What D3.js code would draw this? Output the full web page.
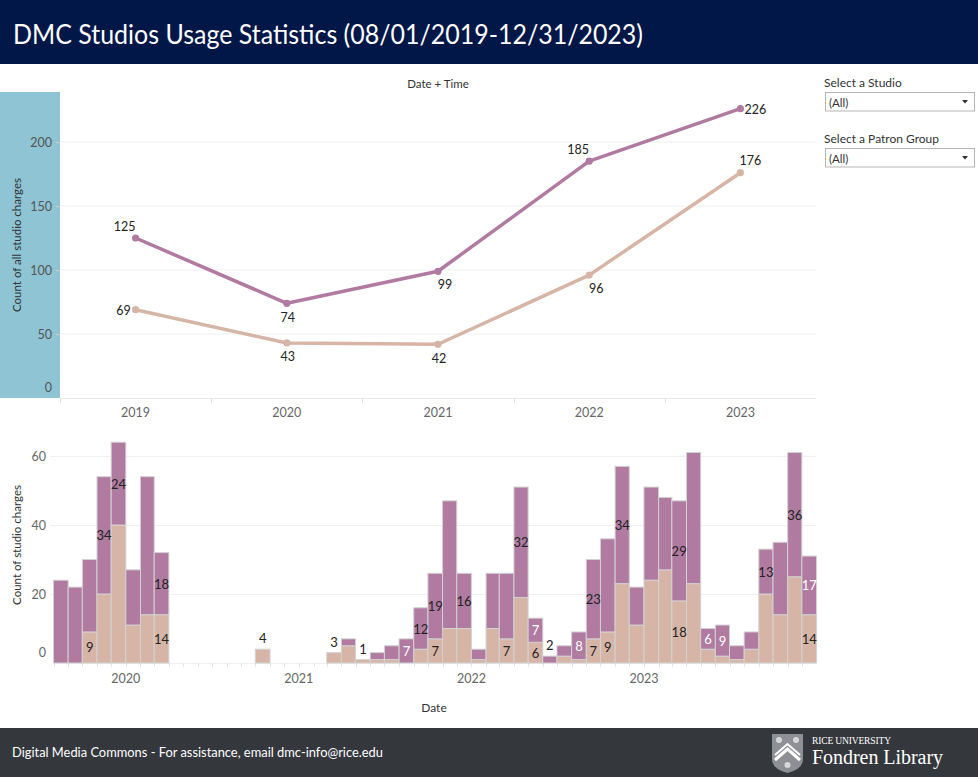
<!DOCTYPE html>
<html>
<head>
<meta charset="utf-8">
<script src="https://cdn.jsdelivr.net/npm/d3@7"></script>
<style>
  html, body { margin: 0; padding: 0; background: #fff; }
  svg { display: block; font-family: Lato, "Open Sans", sans-serif; }
</style>
</head>
<body>
<svg id="chart" width="978" height="777"></svg>
<script>
// ---------------- DATA ----------------
const titleText = "DMC Studios Usage Statistics (08/01/2019-12/31/2023)";
const footerText = "Digital Media Commons - For assistance, email dmc-info@rice.edu";

// Yearly totals (top chart)
const years = ["2019", "2020", "2021", "2022", "2023"];
const purpleYearly = [125, 74, 99, 185, 226];
const tanYearly = [69, 43, 42, 96, 176];
const purpleYearlyLabelPos = ["above-left", "below", "below-right", "above-left", "right"];
const tanYearlyLabelPos = ["left", "below", "below", "below-right", "above-right"];
const yearlyTicks = [0, 50, 100, 150, 200];

// Monthly counts (bottom chart) – months with any charges
const months = ["2019-08","2019-09","2019-10","2019-11","2019-12","2020-01","2020-02","2020-03","2020-10",
  "2021-03","2021-04","2021-05","2021-06","2021-07","2021-08","2021-09","2021-10","2021-11","2021-12",
  "2022-01","2022-02","2022-03","2022-04","2022-05","2022-06","2022-07","2022-08","2022-09","2022-10","2022-11","2022-12",
  "2023-01","2023-02","2023-03","2023-04","2023-05","2023-06","2023-07","2023-08","2023-09","2023-10","2023-11","2023-12"];
const tanMonthly = [0,0,9,20,40,11,14,14,4,
  3,5,1,1,1,0,4,7,10,10,
  1,10,7,19,6,0,2,1,7,9,23,11,
  24,27,18,23,4,2,1,4,20,14,25,14];
const purpleMonthly = [24,22,21,34,24,16,40,18,0,
  0,2,0,2,4,7,12,19,37,16,
  3,16,19,32,7,2,3,8,23,27,34,11,
  27,21,29,38,6,9,4,5,13,21,36,17];
const monthlyTicks = [0, 20, 40, 60];
// which segments carry a visible mark label
const purpleLabelMonths = ["2019-11","2019-12","2020-03","2021-08","2021-09","2021-10","2021-12","2022-04","2022-05","2022-06","2022-08","2022-09","2022-11","2023-03","2023-05","2023-06","2023-09","2023-11","2023-12"];
const tanLabelMonths = ["2019-10","2020-03","2020-10","2021-03","2021-05","2021-10","2022-03","2022-05","2022-09","2022-10","2023-03","2023-12"];
const whiteLabelMonths = ["2021-08","2022-05","2022-08","2023-05","2023-06","2023-12"];

// ---------------- STYLE ----------------
const PURPLE = "#b07aa1", TAN = "#d7b5a6";
const svg = d3.select("#chart");

// Header
svg.append("rect").attr("x", 0).attr("y", 0).attr("width", 978).attr("height", 64).attr("fill", "#011748");
svg.append("text").attr("x", 13).attr("y", 34).attr("dominant-baseline", "central")
  .attr("fill", "#fff").attr("font-size", 26).attr("textLength", 630).attr("lengthAdjust", "spacingAndGlyphs")
  .text(titleText);

// Footer
svg.append("rect").attr("x", 0).attr("y", 728).attr("width", 978).attr("height", 49).attr("fill", "#34373c");
svg.append("text").attr("x", 12).attr("y", 752).attr("dominant-baseline", "central")
  .attr("fill", "#fff").attr("font-size", 13).attr("textLength", 371).attr("lengthAdjust", "spacingAndGlyphs")
  .text(footerText);
// logo
const logo = svg.append("g");
logo.append("path").attr("d", "M772,734 L803,734 L803,759 Q803,769 787.5,773 Q772,769 772,759 Z").attr("fill", "#8e9095");
logo.append("path").attr("d", "M775,760 L787.5,749 L800,760").attr("fill", "none").attr("stroke", "#fff").attr("stroke-width", 3);
logo.append("path").attr("d", "M775,755 L787.5,744 L800,755").attr("fill", "none").attr("stroke", "#fff").attr("stroke-width", 2);
[[779,740],[796,740],[787.5,765]].forEach(p => logo.append("circle").attr("cx", p[0]).attr("cy", p[1]).attr("r", 3).attr("fill", "#d8d8d8"));
svg.append("text").attr("x", 812).attr("y", 741).attr("dominant-baseline", "central")
  .attr("fill", "#fff").attr("font-family", "Liberation Serif, serif").attr("font-size", 9.5).attr("textLength", 79)
  .text("RICE UNIVERSITY");
svg.append("text").attr("x", 812).attr("y", 757).attr("dominant-baseline", "central")
  .attr("fill", "#fff").attr("font-family", "Liberation Serif, serif").attr("font-size", 20).attr("textLength", 131)
  .text("Fondren Library");

// Filters
function dropdown(label, y) {
  svg.append("text").attr("x", 824).attr("y", y).attr("dominant-baseline", "central")
    .attr("fill", "#333").attr("font-size", 12).text(label);
  svg.append("rect").attr("x", 825.5).attr("y", y + 10.5).attr("width", 149).attr("height", 18.5)
    .attr("fill", "#fff").attr("stroke", "#b5b5b5");
  svg.append("text").attr("x", 829).attr("y", y + 20).attr("dominant-baseline", "central")
    .attr("fill", "#333").attr("font-size", 11.5).text("(All)");
  svg.append("path").attr("d", `M962,${y + 18} L968,${y + 18} L965,${y + 21.5} Z`).attr("fill", "#333");
}
dropdown("Select a Studio", 82);
dropdown("Select a Patron Group", 138);

// ---------------- TOP LINE CHART ----------------
const xL = d3.scaleBand().domain(years).range([60, 816]);
const yL = d3.scaleLinear().domain([0, 200]).range([398, 142]);

svg.append("rect").attr("x", 0).attr("y", 92).attr("width", 60).attr("height", 306).attr("fill", "#8ec4d3");

svg.append("g").selectAll("line").data(yearlyTicks.filter(t => t > 0)).join("line")
  .attr("x1", 60).attr("x2", 816).attr("y1", d => yL(d)).attr("y2", d => yL(d))
  .attr("stroke", "#efefef").attr("stroke-width", 1);

const yAxisL = svg.append("g").attr("transform", "translate(60,0)")
  .call(d3.axisLeft(yL).tickValues(yearlyTicks).tickSize(4).tickPadding(4));
yAxisL.select(".domain").remove();
yAxisL.selectAll(".tick line").attr("stroke", "#c8c8c8");
yAxisL.selectAll(".tick text").attr("fill", "#555").attr("font-size", 12.5).attr("font-family", "Lato, sans-serif")
  .attr("dy", d => d === 0 ? "-0.5em" : "0.32em");
yAxisL.selectAll(".tick").filter(d => d === 0).select("line").remove();

svg.append("text").attr("transform", "translate(16,245) rotate(-90)").attr("text-anchor", "middle")
  .attr("dominant-baseline", "central").attr("fill", "#333").attr("font-size", 11.5)
  .text("Count of all studio charges");

// x axis
svg.append("line").attr("x1", 60).attr("x2", 816).attr("y1", 398.5).attr("y2", 398.5).attr("stroke", "#e8e8e8");
svg.append("g").selectAll("line").data(years).join("line")
  .attr("x1", d => Math.round(xL(d)) + 0.5).attr("x2", d => Math.round(xL(d)) + 0.5)
  .attr("y1", 398).attr("y2", 403).attr("stroke", "#e0e0e0");
svg.append("g").selectAll("text").data(years).join("text")
  .attr("x", d => xL(d) + xL.bandwidth() / 2).attr("y", 412).attr("text-anchor", "middle")
  .attr("dominant-baseline", "central").attr("fill", "#666").attr("font-size", 12.5).text(d => d);
svg.append("text").attr("x", 438).attr("y", 83).attr("text-anchor", "middle").attr("dominant-baseline", "central")
  .attr("fill", "#333").attr("font-size", 11.5).text("Date + Time");

const labelOffsets = {
  "above-left": [-11, -12], "below": [1, 14], "below-right": [7, 13], "right": [15, 1],
  "left": [-12, 1], "above-right": [10, -12]
};
function drawYearSeries(values, positions, color) {
  const pts = years.map((y, i) => ({ year: y, v: values[i], pos: positions[i] }));
  const cx = d => xL(d.year) + xL.bandwidth() / 2;
  svg.append("path").datum(pts)
    .attr("d", d3.line().x(cx).y(d => yL(d.v)))
    .attr("fill", "none").attr("stroke", color).attr("stroke-width", 3.5).attr("stroke-linejoin", "round");
  svg.append("g").selectAll("circle").data(pts).join("circle")
    .attr("cx", cx).attr("cy", d => yL(d.v)).attr("r", 3.6).attr("fill", color);
  svg.append("g").selectAll("text").data(pts).join("text")
    .attr("x", d => cx(d) + labelOffsets[d.pos][0]).attr("y", d => yL(d.v) + labelOffsets[d.pos][1])
    .attr("text-anchor", "middle").attr("dominant-baseline", "central")
    .attr("fill", "#222").attr("font-size", 12.5).text(d => d.v);
}
drawYearSeries(tanYearly, tanYearlyLabelPos, TAN);
drawYearSeries(purpleYearly, purpleYearlyLabelPos, PURPLE);

// ---------------- BOTTOM BAR CHART ----------------
const parseMonth = d3.timeParse("%Y-%m");
const start = new Date(2019, 7, 1), end = new Date(2024, 0, 1);
const xB = d3.scaleTime().domain([start, end]).range([53.5, 816.5]);
const yB = d3.scaleLinear().domain([0, 60]).range([663, 456]);

svg.append("g").selectAll("line").data(monthlyTicks.filter(t => t > 0)).join("line")
  .attr("x1", 50).attr("x2", 816).attr("y1", d => Math.round(yB(d)) + 0.5).attr("y2", d => Math.round(yB(d)) + 0.5)
  .attr("stroke", "#efefef");

const yAxisB = svg.append("g").attr("transform", "translate(50,0)")
  .call(d3.axisLeft(yB).tickValues(monthlyTicks).tickSize(0).tickPadding(4));
yAxisB.select(".domain").remove();
yAxisB.selectAll(".tick text").attr("fill", "#666").attr("font-size", 12.5).attr("font-family", "Lato, sans-serif")
  .attr("dy", d => d === 0 ? "-0.5em" : "0.32em");

svg.append("text").attr("transform", "translate(16,545) rotate(-90)").attr("text-anchor", "middle")
  .attr("dominant-baseline", "central").attr("fill", "#333").attr("font-size", 11.5)
  .text("Count of studio charges");

// month ticks + year labels
svg.append("line").attr("x1", 53).attr("x2", 816).attr("y1", 663.5).attr("y2", 663.5).attr("stroke", "#efefef");
svg.append("g").selectAll("line").data(d3.timeMonth.range(start, end)).join("line")
  .attr("x1", d => Math.round(xB(d)) + 0.5).attr("x2", d => Math.round(xB(d)) + 0.5)
  .attr("y1", 663).attr("y2", 667).attr("stroke", "#e4e4e4");
svg.append("g").selectAll("text").data(d3.timeYear.range(new Date(2020, 0, 1), end)).join("text")
  .attr("x", d => xB(d)).attr("y", 678).attr("text-anchor", "middle").attr("dominant-baseline", "central")
  .attr("fill", "#666").attr("font-size", 12.5).text(d => d3.timeFormat("%Y")(d));
svg.append("text").attr("x", 434).attr("y", 707).attr("text-anchor", "middle").attr("dominant-baseline", "central")
  .attr("fill", "#333").attr("font-size", 12).text("Date");

const barData = months.map((m, i) => {
  const d0 = parseMonth(m);
  return { m, d0, d1: d3.timeMonth.offset(d0, 1), tan: tanMonthly[i], pur: purpleMonthly[i] };
});
const bars = svg.append("g");
barData.forEach(d => {
  const x0 = xB(d.d0), x1 = xB(d.d1);
  if (d.tan > 0) {
    bars.append("rect").attr("x", x0).attr("width", x1 - x0)
      .attr("y", yB(d.tan)).attr("height", yB(0) - yB(d.tan))
      .attr("fill", TAN).attr("stroke", "#d2d2d2").attr("stroke-width", 1);
  }
  if (d.pur > 0) {
    bars.append("rect").attr("x", x0).attr("width", x1 - x0)
      .attr("y", yB(d.tan + d.pur)).attr("height", yB(d.tan) - yB(d.tan + d.pur))
      .attr("fill", PURPLE).attr("stroke", "#d2d2d2").attr("stroke-width", 1);
  }
});
const barLabels = svg.append("g");
barData.forEach(d => {
  const cx = (xB(d.d0) + xB(d.d1)) / 2;
  const white = whiteLabelMonths.includes(d.m);
  if (tanLabelMonths.includes(d.m)) {
    const small = d.tan < 5 && d.pur === 0;
    barLabels.append("text").attr("x", cx)
      .attr("y", small ? yB(d.tan) - 11 : yB(d.tan / 2))
      .attr("text-anchor", "middle").attr("dominant-baseline", "central")
      .attr("fill", "#222").attr("font-size", 13).text(d.tan);
  }
  if (purpleLabelMonths.includes(d.m)) {
    const small = d.pur < 5;
    barLabels.append("text").attr("x", cx)
      .attr("y", small ? yB(d.tan + d.pur) - 11 : yB(d.tan + d.pur / 2))
      .attr("text-anchor", "middle").attr("dominant-baseline", "central")
      .attr("fill", white ? "#fff" : "#222").attr("font-size", 13).text(d.pur);
  }
});
</script>
</body>
</html>
